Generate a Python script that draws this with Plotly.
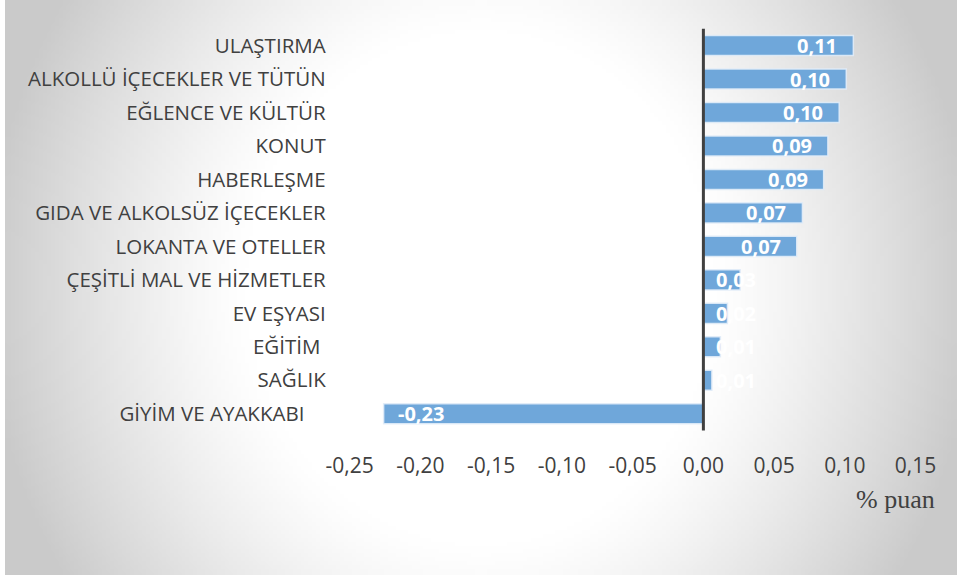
import base64, struct, zlib
import numpy as np
import plotly.graph_objects as go

categories = ["ULAŞTIRMA", "ALKOLLÜ İÇECEKLER VE TÜTÜN", "EĞLENCE VE KÜLTÜR", "KONUT",
              "HABERLEŞME", "GIDA VE ALKOLSÜZ İÇECEKLER", "LOKANTA VE OTELLER",
              "ÇEŞİTLİ MAL VE HİZMETLER", "EV EŞYASI", "EĞİTİM\u00a0", "SAĞLIK",
              "GİYİM VE AYAKKABI\u00a0\u00a0\u00a0\u00a0"]
values = [0.106, 0.101, 0.096, 0.088, 0.085, 0.070, 0.066, 0.026, 0.017, 0.012, 0.006, -0.226]
x_ticks = [-0.25, -0.20, -0.15, -0.10, -0.05, 0.00, 0.05, 0.10, 0.15]
x_tick_labels = ["-0,25", "-0,20", "-0,15", "-0,10", "-0,05", "0,00", "0,05", "0,10", "0,15"]
unit_label = "% puan"

BAR = "#6fa7da"
TXT = "#404040"


def gradient_png(w=240, h=145):
    yy, xx = np.mgrid[0:h, 0:w]
    dx = (xx / (w - 1) - 0.5) / 0.5
    dy = (yy / (h - 1) - 0.5) / 0.5
    d = np.sqrt(dx ** 2 + (0.55 * dy) ** 2)
    t = np.clip((d - 0.5) / 0.55, 0, 1) ** 1.2
    g = (255 - 53 * t).astype(np.uint8)
    raw = b"".join(b"\x00" + g[r].tobytes() for r in range(h))

    def chunk(tag, data):
        c = struct.pack(">I", len(data)) + tag + data
        return c + struct.pack(">I", zlib.crc32(tag + data) & 0xffffffff)

    png = b"\x89PNG\r\n\x1a\n" + chunk(b"IHDR", struct.pack(">IIBBBBB", w, h, 8, 0, 0, 0, 0))
    png += chunk(b"IDAT", zlib.compress(raw, 9)) + chunk(b"IEND", b"")
    return "data:image/png;base64," + base64.b64encode(png).decode()


fig = go.Figure()
fig.add_trace(go.Bar(
    y=categories, x=values, orientation="h",
    marker=dict(color=BAR, line=dict(color="rgba(225,236,248,0.9)", width=1.5)),
    width=0.6, hoverinfo="skip",
))

annotations = []
for c, v in zip(categories, values):
    label = f"{v:.2f}".replace(".", ",")
    if v < 0:
        a = dict(x=v, xanchor="left", xshift=12)
    elif v < 0.05:
        a = dict(x=0, xanchor="left", xshift=11)
    else:
        a = dict(x=v, xanchor="right", xshift=-14)
    a.update(y=c, xref="x", yref="y", text=label, showarrow=False, yanchor="middle",
             font=dict(family="Open Sans", size=20, color="white", weight="bold"))
    annotations.append(a)

annotations.append(dict(x=937 / 957, y=1 - 499 / 578, xref="paper", yref="paper",
                        xanchor="right", yanchor="middle", text=unit_label, showarrow=False,
                        font=dict(family="Liberation Serif", size=26, color=TXT)))

fig.add_shape(type="line", xref="x", yref="y domain", x0=0, x1=0, y0=0, y1=1,
              line=dict(color="#404040", width=3), layer="above")

fig.update_layout(
    width=957, height=578,
    margin=dict(l=0, r=0, t=0, b=0, autoexpand=False),
    paper_bgcolor="white", plot_bgcolor="rgba(0,0,0,0)",
    showlegend=False,
    annotations=annotations,
    images=[dict(source=gradient_png(), xref="paper", yref="paper", x=5 / 957, y=1,
                 sizex=952 / 957, sizey=575 / 578, xanchor="left", yanchor="top",
                 sizing="stretch", layer="below")],
    xaxis=dict(domain=[349.7 / 957, 915.6 / 957], range=[-0.25, 0.15],
               tickvals=x_ticks, ticktext=x_tick_labels, showgrid=False,
               zeroline=False, showline=False, ticks="", ticklabelstandoff=20,
               automargin=False,
               tickfont=dict(family="Open Sans", size=21, color=TXT)),
    yaxis=dict(domain=[1 - 430.5 / 578, 1 - 28.8 / 578], autorange="reversed",
               categoryorder="array", categoryarray=categories,
               showgrid=False, zeroline=False, showline=False, ticks="",
               ticklabelstandoff=23, automargin=False,
               tickfont=dict(family="Open Sans", size=20.5, color=TXT)),
    bargap=0.4,
)

fig.write_html("out.html", config={"displayModeBar": False},
               post_script="document.body.style.margin='0';")
